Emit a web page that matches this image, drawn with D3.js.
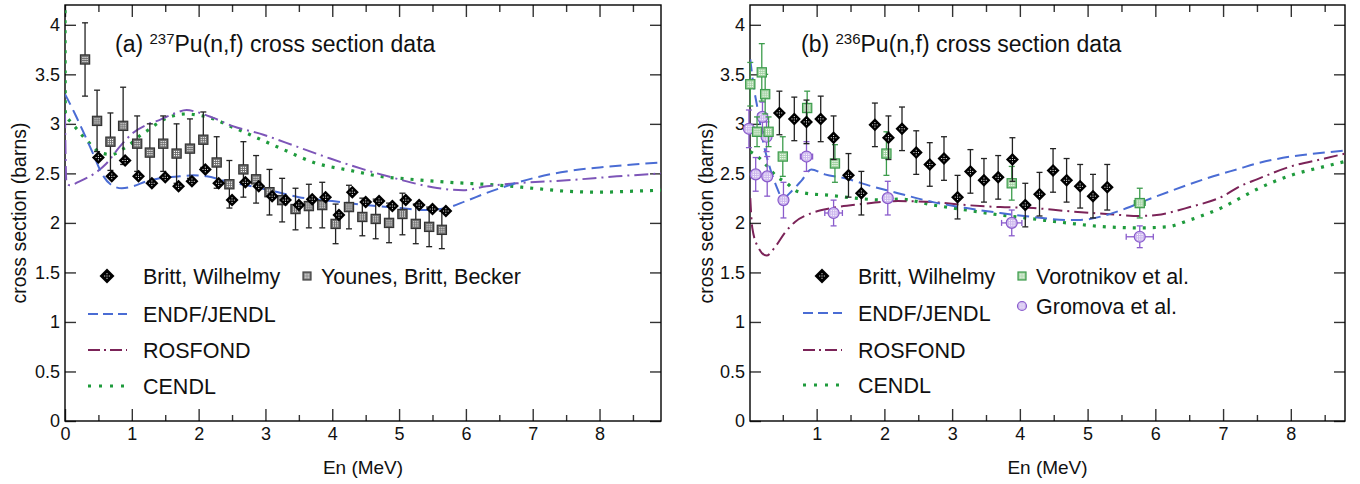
<!DOCTYPE html>
<html><head><meta charset="utf-8">
<script src="https://cdn.jsdelivr.net/npm/d3@7"></script>
<style>
body{margin:0;background:#fff}
svg{display:block}
text{font-family:"Liberation Sans",Arial,Helvetica,sans-serif;fill:#111}
</style>
</head><body>
<svg id="c" width="1360" height="484"></svg>
<script>
// ---------------- tick values ----------------
const xMajorTicks = [0,1,2,3,4,5,6,7,8];
const xMinorTicks = [0.5,1.5,2.5,3.5,4.5,5.5,6.5,7.5,8.5];
const yMajorTicks = [0,0.5,1,1.5,2,2.5,3,3.5,4];

// ---------------- panel (a) 237Pu ----------------
const aBrittX = [0.5,0.7,0.9,1.1,1.3,1.5,1.7,1.9,2.1,2.3,2.5,2.7,2.9,3.1,3.3,3.5,3.7,3.9,4.1,4.3,4.5,4.7,4.9,5.1,5.3,5.5,5.7];
const aBrittY = [2.66,2.47,2.63,2.47,2.40,2.46,2.37,2.42,2.54,2.40,2.23,2.41,2.37,2.27,2.23,2.18,2.24,2.26,2.08,2.31,2.21,2.22,2.17,2.23,2.18,2.14,2.12];

const aYounesX = [0.3,0.48,0.68,0.87,1.08,1.27,1.47,1.67,1.87,2.07,2.27,2.46,2.67,2.86,3.06,3.25,3.45,3.65,3.85,4.05,4.25,4.45,4.65,4.85,5.05,5.25,5.45,5.64];
const aYounesY = [3.65,3.03,2.82,2.98,2.80,2.71,2.80,2.70,2.75,2.84,2.61,2.39,2.54,2.44,2.31,2.23,2.14,2.17,2.18,1.99,2.16,2.06,2.04,2.00,2.09,1.99,1.96,1.93];
const aYounesErr = [0.37,0.31,0.29,0.39,0.28,0.29,0.28,0.30,0.30,0.28,0.26,0.24,0.28,0.24,0.23,0.22,0.21,0.22,0.23,0.20,0.22,0.19,0.20,0.20,0.21,0.20,0.20,0.19];

const aEndfX = [0,0.15,0.3,0.42,0.55,0.7,0.85,1.02,1.22,1.42,1.72,1.92,2.12,2.42,2.72,3.12,3.5,4.0,4.5,5.0,5.4,5.7,6.0,6.3,6.6,7.0,7.5,8.0,8.5,8.92];
const aEndfY = [3.30,3.10,2.88,2.70,2.50,2.38,2.35,2.37,2.42,2.45,2.47,2.48,2.47,2.42,2.38,2.32,2.26,2.22,2.18,2.15,2.13,2.15,2.22,2.30,2.37,2.45,2.52,2.56,2.59,2.61];

const aRosX = [0,0.02,0.07,0.22,0.42,0.62,0.82,1.02,1.22,1.42,1.62,1.82,1.97,2.22,2.5,2.97,3.47,3.97,4.47,5.0,5.5,5.96,6.31,6.76,7.51,8.26,8.92];
const aRosY = [3.10,2.42,2.38,2.42,2.49,2.60,2.77,2.91,2.99,3.04,3.10,3.14,3.12,3.06,2.98,2.89,2.77,2.65,2.54,2.44,2.36,2.33,2.37,2.40,2.43,2.47,2.50];

const aCendlX = [0,0.005,0.1,0.2,0.3,0.42,0.52,0.7,0.85,0.97,1.1,1.25,1.35,1.5,1.67,1.82,1.97,2.12,2.27,2.42,2.57,2.87,3.27,3.77,4.27,4.82,5.0,5.76,6.5,7.0,7.5,8.0,8.5,8.92];
const aCendlY = [4.35,3.10,3.01,2.93,2.85,2.77,2.71,2.69,2.74,2.79,2.87,2.94,2.99,3.05,3.09,3.10,3.09,3.07,3.04,2.99,2.95,2.86,2.74,2.60,2.53,2.46,2.45,2.41,2.38,2.35,2.32,2.31,2.32,2.33];

// ---------------- panel (b) 236Pu ----------------
const bBrittX = [0.45,0.67,0.85,1.06,1.25,1.47,1.66,1.86,2.06,2.26,2.47,2.67,2.88,3.08,3.27,3.47,3.68,3.89,4.08,4.29,4.49,4.69,4.89,5.08,5.29];
const bBrittY = [3.11,3.05,3.02,3.05,2.86,2.48,2.30,2.99,2.86,2.95,2.71,2.59,2.65,2.26,2.52,2.43,2.46,2.64,2.18,2.29,2.53,2.43,2.37,2.27,2.36];
const bBrittErr = [0.22,0.22,0.22,0.23,0.22,0.22,0.22,0.22,0.22,0.22,0.22,0.22,0.22,0.22,0.22,0.22,0.22,0.22,0.22,0.22,0.22,0.22,0.22,0.22,0.23];

const bVoroX = [0.02,0.19,0.24,0.12,0.29,0.50,0.86,1.27,2.03,3.88,5.77];
const bVoroY = [3.40,3.52,3.30,2.92,2.92,2.67,3.16,2.60,2.70,2.40,2.20];
const bVoroErr = [0.22,0.29,0.20,0.15,0.15,0.20,0.17,0.19,0.22,0.17,0.15];
const bVoroXErr = [0,0,0,0,0,0,0,0,0,0,0.08];

const bGromX = [0.00,0.10,0.20,0.26,0.27,0.51,0.85,1.25,2.05,3.88,5.77];
const bGromY = [2.95,2.49,3.07,2.87,2.47,2.23,2.67,2.10,2.25,2.00,1.86];
const bGromErr = [0.19,0.17,0.15,0.15,0.20,0.18,0.15,0.13,0.17,0.13,0.11];
const bGromXErr = [0,0,0,0,0,0,0.09,0.13,0,0.15,0.20];

const bEndfX = [0.02,0.07,0.14,0.21,0.3,0.4,0.5,0.63,0.78,0.92,1.12,1.42,1.81,2.2,2.72,3.21,3.71,4.2,4.69,4.89,5.28,5.58,5.87,6.26,6.76,7.25,7.5,8.0,8.5,8.8];
const bEndfY = [3.65,3.38,3.11,2.82,2.58,2.38,2.25,2.32,2.43,2.54,2.49,2.45,2.37,2.30,2.21,2.15,2.10,2.06,2.03,2.03,2.08,2.15,2.23,2.33,2.45,2.55,2.60,2.67,2.71,2.73];

const bRosX = [0.02,0.05,0.14,0.26,0.39,0.53,0.68,0.93,1.22,1.66,2.2,2.72,3.21,3.71,4.2,4.69,5.28,5.77,6.02,6.51,7.0,7.25,7.5,8.0,8.5,8.8];
const bRosY = [2.25,1.95,1.75,1.67,1.76,1.90,2.01,2.10,2.15,2.19,2.22,2.21,2.18,2.16,2.15,2.12,2.09,2.07,2.08,2.16,2.27,2.37,2.44,2.57,2.65,2.70];

const bCendlX = [0.02,0.09,0.21,0.31,0.41,0.56,0.68,0.83,1.17,1.57,2.01,2.23,2.72,3.21,3.71,4.2,4.69,5.28,5.77,6.17,6.51,7.0,7.25,7.5,8.0,8.5,8.8];
const bCendlY = [2.72,2.69,2.62,2.54,2.47,2.40,2.33,2.30,2.28,2.25,2.23,2.24,2.18,2.13,2.08,2.04,2.00,1.96,1.95,1.96,2.03,2.16,2.25,2.34,2.48,2.57,2.62];

// ---------------- drawing ----------------
const svg = d3.select('#c');
const C = {
  endf:'#4a6cd4', rosA:'#7d55b8', ros:'#7b2358', cendl:'#1e9b3c',
  voro:'#3c9c4c', voroFill:'#9fd19f', grom:'#8a5ccc', gromFill:'#cdb8ee'
};
const yTop = 5, yBot = 421;

function panel(opt){
  const x = d3.scaleLinear().domain(opt.xDom).range([opt.x0, opt.x1]);
  const y = d3.scaleLinear().domain([0,4.2]).range([yBot, yTop]);
  const g = svg.append('g');
  const clipId = 'clip'+opt.id;
  svg.append('clipPath').attr('id',clipId).append('rect')
     .attr('x',opt.x0).attr('y',yTop).attr('width',opt.x1-opt.x0).attr('height',yBot-yTop);

  const inX = v => v >= opt.xDom[0]-1e-9 && v <= opt.xDom[1];
  const fmt = d3.format('~g');
  function axisStyle(sel){
    sel.select('.domain').remove();
    sel.selectAll('line').attr('stroke','#333').attr('stroke-width',1.4);
    sel.selectAll('text').style('font-size','18px').attr('fill','#111');
  }
  g.append('g').attr('transform',`translate(0,${yBot})`)
    .call(d3.axisBottom(x).tickValues(xMajorTicks.filter(inX)).tickSize(-12).tickPadding(6).tickFormat(fmt)).call(axisStyle);
  g.append('g').attr('transform',`translate(0,${yBot})`)
    .call(d3.axisBottom(x).tickValues(xMinorTicks.filter(inX)).tickSize(-6).tickFormat('')).call(axisStyle);
  g.append('g').attr('transform',`translate(0,${yTop})`)
    .call(d3.axisTop(x).tickValues(xMajorTicks.filter(inX)).tickSize(-12).tickFormat('')).call(axisStyle);
  g.append('g').attr('transform',`translate(0,${yTop})`)
    .call(d3.axisTop(x).tickValues(xMinorTicks.filter(inX)).tickSize(-7).tickFormat('')).call(axisStyle);
  g.append('g').attr('transform',`translate(${opt.x0},0)`)
    .call(d3.axisLeft(y).tickValues(yMajorTicks).tickSize(-11).tickPadding(5).tickFormat(fmt)).call(axisStyle);
  g.append('g').attr('transform',`translate(${opt.x1},0)`)
    .call(d3.axisRight(y).tickValues(yMajorTicks).tickSize(-11).tickFormat('')).call(axisStyle);

  g.append('rect').attr('x',opt.x0).attr('y',yTop).attr('width',opt.x1-opt.x0).attr('height',yBot-yTop)
    .attr('fill','none').attr('stroke','#000').attr('stroke-width',1.4);

  // axis titles
  g.append('text').attr('x',(opt.x0+opt.x1)/2).attr('y',474).attr('text-anchor','middle')
    .style('font-size','19px').text('En (MeV)');
  g.append('text').attr('transform',`translate(${opt.ytX},213) rotate(-90)`).attr('text-anchor','middle')
    .style('font-size','19.5px').text('cross section (barns)');

  // title
  const t = g.append('text').attr('x',opt.titleX).attr('y',52).style('font-size','23px');
  t.append('tspan').text(opt.label+' ');
  t.append('tspan').attr('dy',-8).style('font-size','15px').text(opt.iso);
  t.append('tspan').attr('dy',8).text('Pu(n,f) cross section data');

  const line = (xs, ys) => d3.line().x(d=>x(d[0])).y(d=>y(d[1])).curve(d3.curveMonotoneX)(d3.zip(xs,ys));
  const cg = g.append('g').attr('clip-path',`url(#${clipId})`);
  return {x, y, g, cg, line};
}

function drawCurve(P, xs, ys, color, kind){
  const p = P.cg.append('path').attr('d', P.line(xs,ys)).attr('fill','none').attr('stroke',color);
  if(kind==='dash') p.attr('stroke-width',2).attr('stroke-dasharray','12 6');
  if(kind==='dashdot') p.attr('stroke-width',2).attr('stroke-dasharray','14 5 2 5');
  if(kind==='dot') p.attr('stroke-width',3.2).attr('stroke-dasharray','3 7');
}

function dots(g, cx, cy, offs, color, sz){
  offs.forEach(o => g.append('rect').attr('x',cx+o[0]-sz/2).attr('y',cy+o[1]-sz/2)
      .attr('width',sz).attr('height',sz).attr('fill',color));
}
const gridOffs = s => [[-s,-s],[0,-s],[s,-s],[-s,0],[0,0],[s,0],[-s,s],[0,s],[s,s]];

function diamond(g, cx, cy, r){
  g.append('path').attr('d',`M${cx},${cy-r}L${cx+r},${cy}L${cx},${cy+r}L${cx-r},${cy}Z`).attr('fill','#000');
  dots(g, cx, cy, [[0,0],[2.3,0],[-2.3,0],[0,2.3],[0,-2.3]], '#fff', 1.0);
}
function square(g, cx, cy, h, stroke, fill){
  g.append('rect').attr('x',cx-h).attr('y',cy-h).attr('width',2*h).attr('height',2*h)
    .attr('fill',fill).attr('stroke',stroke).attr('stroke-width',1.2);
  dots(g, cx, cy, gridOffs(h*0.45), '#fff', 1.1);
}
function circle(g, cx, cy, r, stroke, fill){
  g.append('circle').attr('cx',cx).attr('cy',cy).attr('r',r).attr('fill',fill).attr('stroke',stroke).attr('stroke-width',1.2);
  dots(g, cx, cy, gridOffs(r*0.42), '#fff', 1.1);
}
function errBars(P, xs, ys, es, xes, color){
  const g = P.g.append('g').attr('stroke',color).attr('stroke-width',1.3);
  d3.zip(xs, ys, es, xes || xs.map(()=>0)).forEach(([vx,vy,e,xe])=>{
    const cx = P.x(vx), y1 = P.y(vy+e), y2 = P.y(vy-e);
    g.append('line').attr('x1',cx).attr('x2',cx).attr('y1',y1).attr('y2',y2);
    g.append('line').attr('x1',cx-3).attr('x2',cx+3).attr('y1',y1).attr('y2',y1);
    g.append('line').attr('x1',cx-3).attr('x2',cx+3).attr('y1',y2).attr('y2',y2);
    if(xe>0){
      const xa = P.x(vx-xe), xb = P.x(vx+xe), cy = P.y(vy);
      g.append('line').attr('x1',xa).attr('x2',xb).attr('y1',cy).attr('y2',cy);
      g.append('line').attr('x1',xa).attr('x2',xa).attr('y1',cy-3).attr('y2',cy+3);
      g.append('line').attr('x1',xb).attr('x2',xb).attr('y1',cy-3).attr('y2',cy+3);
    }
  });
}
function legendLine(g, x1, x2, yy, color, kind){
  const l = g.append('line').attr('x1',x1).attr('x2',x2).attr('y1',yy).attr('y2',yy).attr('stroke',color);
  if(kind==='dash') l.attr('stroke-width',2).attr('stroke-dasharray','10 5');
  if(kind==='dashdot') l.attr('stroke-width',2).attr('stroke-dasharray','12 4 2 4');
  if(kind==='dot') l.attr('stroke-width',3).attr('stroke-dasharray','3 8');
}
function legendText(g, tx, ty, s){
  g.append('text').attr('x',tx).attr('y',ty).attr('dy','0.36em').style('font-size','21.5px').text(s);
}

// ----- panel a -----
const A = panel({id:'a', xDom:[0,8.92], x0:65, x1:661, ytX:26, titleX:115, label:'(a)', iso:'237'});
drawCurve(A, aCendlX, aCendlY, C.cendl, 'dot');
drawCurve(A, aRosX, aRosY, C.rosA, 'dashdot');
drawCurve(A, aEndfX, aEndfY, C.endf, 'dash');
errBars(A, aYounesX, aYounesY, aYounesErr, null, '#222');
d3.zip(aYounesX, aYounesY).forEach(([vx,vy]) => square(A.g, A.x(vx), A.y(vy), 4.6, '#333', '#6e6e6e'));
d3.zip(aBrittX, aBrittY).forEach(([vx,vy]) => diamond(A.g, A.x(vx), A.y(vy), 6.5));

// legend a
diamond(A.g, 107, 276, 7.5);
legendText(A.g, 143, 276, 'Britt, Wilhelmy');
square(A.g, 307, 276, 4, '#444', '#777');
legendText(A.g, 321, 276, 'Younes, Britt, Becker');
legendLine(A.g, 88, 127, 314, C.endf, 'dash');
legendText(A.g, 143, 314, 'ENDF/JENDL');
legendLine(A.g, 88, 127, 350, C.ros, 'dashdot');
legendText(A.g, 143, 350, 'ROSFOND');
legendLine(A.g, 88, 127, 386, C.cendl, 'dot');
legendText(A.g, 143, 386, 'CENDL');

// ----- panel b -----
const B = panel({id:'b', xDom:[0.016,8.8], x0:750, x1:1345, ytX:713, titleX:801, label:'(b)', iso:'236'});
drawCurve(B, bCendlX, bCendlY, C.cendl, 'dot');
drawCurve(B, bRosX, bRosY, C.ros, 'dashdot');
drawCurve(B, bEndfX, bEndfY, C.endf, 'dash');
errBars(B, bGromX, bGromY, bGromErr, bGromXErr, C.grom);
d3.zip(bGromX, bGromY).forEach(([vx,vy]) => circle(B.g, B.x(vx), B.y(vy), 5.5, C.grom, C.gromFill));
errBars(B, bVoroX, bVoroY, bVoroErr, bVoroXErr, C.voro);
d3.zip(bVoroX, bVoroY).forEach(([vx,vy]) => square(B.g, B.x(vx), B.y(vy), 4.6, C.voro, C.voroFill));
errBars(B, bBrittX, bBrittY, bBrittErr, null, '#222');
d3.zip(bBrittX, bBrittY).forEach(([vx,vy]) => diamond(B.g, B.x(vx), B.y(vy), 6.5));

// legend b
diamond(B.g, 822, 276, 7.5);
legendText(B.g, 858, 276, 'Britt, Wilhelmy');
square(B.g, 1022, 276, 4, C.voro, C.voroFill);
legendText(B.g, 1036, 276, 'Vorotnikov et al.');
circle(B.g, 1022, 306, 4.5, C.grom, C.gromFill);
legendText(B.g, 1036, 306, 'Gromova et al.');
legendLine(B.g, 803, 842, 313, C.endf, 'dash');
legendText(B.g, 858, 313, 'ENDF/JENDL');
legendLine(B.g, 803, 842, 350, C.ros, 'dashdot');
legendText(B.g, 858, 350, 'ROSFOND');
legendLine(B.g, 803, 842, 385, C.cendl, 'dot');
legendText(B.g, 858, 385, 'CENDL');
</script>
</body></html>
